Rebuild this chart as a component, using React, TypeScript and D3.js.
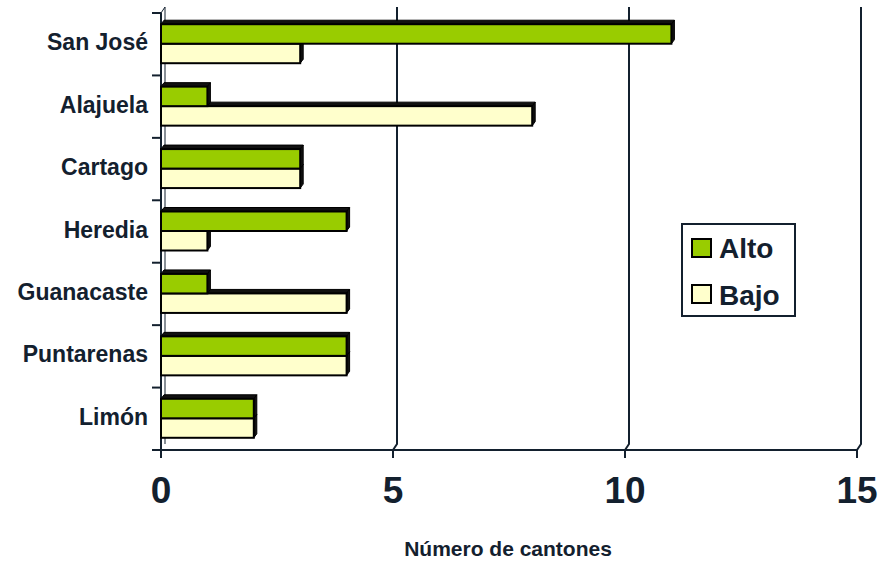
import React from "react";
import * as d3 from "d3";

const provinces = ["San José", "Alajuela", "Cartago", "Heredia", "Guanacaste", "Puntarenas", "Limón"];
const alto = [11, 1, 3, 4, 1, 4, 2];
const bajo = [3, 8, 3, 1, 4, 4, 2];
const xTicks = [0, 5, 10, 15];
const seriesNames = ["Alto", "Bajo"];
const seriesColors = ["#99cc00", "#ffffcc"];

const W = 881;
const H = 564;
const left = 161;
const right = 857;
const top = 13;
const bottom = 450;
// depth of the back wall / bars
const DX = 4;
const DY = 6;
const BDX = 3;
const BDY = 4;
const ink = "#13202e";
const font = "'Liberation Sans', Arial, sans-serif";

export default function App() {
  const x = d3.scaleLinear().domain([0, 15]).range([left, right]);
  const y = d3.scaleBand<string>().domain(provinces).range([top, bottom]);
  const inner = d3
    .scaleBand<string>()
    .domain(seriesNames)
    .range([-20, 19]);

  const bar = (v: number, cat: string, s: number, key: string) => {
    const y0 = (y(cat) as number) + y.bandwidth() / 2 + (inner(seriesNames[s]) as number);
    const y1 = y0 + inner.bandwidth();
    const x0 = x(0);
    const x1 = x(v);
    const side = `${x1},${y0} ${x1 + BDX},${y0 - BDY} ${x1 + BDX},${y1 - BDY} ${x1},${y1}`;
    const topFace = `${x0},${y0} ${x0 + BDX},${y0 - BDY} ${x1 + BDX},${y0 - BDY} ${x1},${y0}`;
    return (
      <g key={key}>
        <polygon points={topFace} fill="#111" stroke="#000" strokeWidth={1} />
        <polygon points={side} fill="#111" stroke="#000" strokeWidth={1} />
        <rect x={x0} y={y0} width={x1 - x0} height={y1 - y0} fill={seriesColors[s]} stroke="#000" strokeWidth={2} />
      </g>
    );
  };

  return (
    <svg width={W} height={H} style={{ position: "absolute", left: 0, top: 0, background: "#fff" }} fontFamily={font}>
      {/* back wall gridlines with a short diagonal onto the floor */}
      {xTicks.slice(1).map((t) => (
        <polyline
          key={"g" + t}
          points={`${x(t) + DX},${top - DY} ${x(t) + DX},${bottom - DY} ${x(t)},${bottom}`}
          fill="none"
          stroke={ink}
          strokeWidth={2}
        />
      ))}
      {/* left wall */}
      <line x1={left + DX} y1={top - DY} x2={left + DX} y2={bottom - DY} stroke={ink} strokeWidth={1} />
      <line x1={left} y1={top} x2={left + DX} y2={top - DY} stroke={ink} strokeWidth={1} />
      <line x1={left} y1={top} x2={left} y2={bottom} stroke={ink} strokeWidth={2} />
      {/* floor edge */}
      <line x1={left} y1={bottom} x2={right} y2={bottom} stroke={ink} strokeWidth={2} />
      {xTicks.map((t) => (
        <line key={"t" + t} x1={x(t)} y1={bottom} x2={x(t)} y2={bottom + 8} stroke={ink} strokeWidth={2} />
      ))}
      {d3.range(provinces.length + 1).map((i) => {
        const yy = top + i * y.step();
        return <line key={"c" + i} x1={left - 9} y1={yy} x2={left} y2={yy} stroke={ink} strokeWidth={2} />;
      })}

      {provinces.map((p, i) => (
        <g key={p}>
          {bar(bajo[i], p, 1, "b" + i)}
          {bar(alto[i], p, 0, "a" + i)}
        </g>
      ))}

      {provinces.map((p) => (
        <text
          key={"l" + p}
          x={148}
          y={(y(p) as number) + y.bandwidth() / 2 + 6}
          textAnchor="end"
          fontSize={23}
          fontWeight="bold"
          fill={ink}
        >
          {p}
        </text>
      ))}

      {xTicks.map((t) => (
        <text key={"x" + t} x={x(t)} y={503} textAnchor="middle" fontSize={37} fontWeight="bold" fill={ink}>
          {t}
        </text>
      ))}
      <text x={508} y={556} textAnchor="middle" fontSize={21} fontWeight="bold" fill={ink}>
        Número de cantones
      </text>

      {/* legend */}
      <rect x={682} y={224} width={113} height={92} fill="#fff" stroke={ink} strokeWidth={2} />
      {seriesNames.map((s, i) => (
        <g key={"lg" + s}>
          <rect x={692} y={239 + i * 46} width={19} height={18} fill={seriesColors[i]} stroke="#000" strokeWidth={2} />
          <text x={719} y={258 + i * 47} fontSize={28} fontWeight="bold" fill={ink}>
            {s}
          </text>
        </g>
      ))}
    </svg>
  );
}
